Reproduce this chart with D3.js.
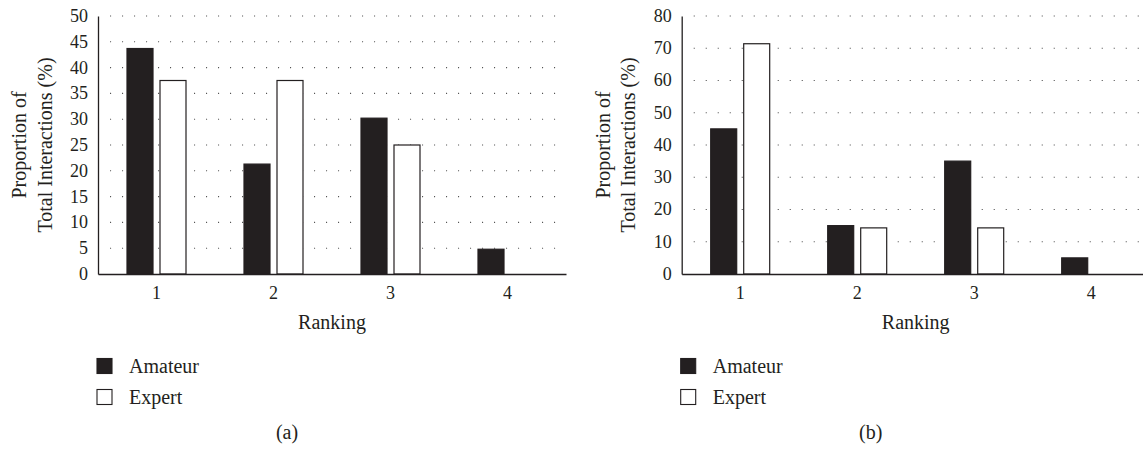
<!DOCTYPE html>
<html>
<head>
<meta charset="utf-8">
<script src="https://cdn.jsdelivr.net/npm/d3@7"></script>
<style>
  html, body { margin: 0; padding: 0; background: #fff; }
  svg { display: block; }
  text { font-family: "Liberation Serif", "Times New Roman", "DejaVu Serif", serif; fill: #231f20; }
</style>
</head>
<body>
<svg id="chart" width="1143" height="449"></svg>
<script>
// Ranking categories and the two groups compared
const rankings = ["1", "2", "3", "4"];
const groups = ["Amateur", "Expert"];

// Panel (a): proportion of total interactions (%)
const amateurA = [43.7, 21.3, 30.2, 4.8];
const expertA  = [37.5, 37.5, 25.0, 0];
const ticksA   = [0, 5, 10, 15, 20, 25, 30, 35, 40, 45, 50];

// Panel (b): proportion of total interactions (%)
const amateurB = [45.0, 15.0, 35.0, 5.0];
const expertB  = [71.4, 14.3, 14.3, 0];
const ticksB   = [0, 10, 20, 30, 40, 50, 60, 70, 80];

const ink = "#231f20";
const serif = '"Liberation Serif", "Times New Roman", "DejaVu Serif", serif';
const svg = d3.select("#chart");

function drawPanel(dx, amateur, expert, ticks, caption) {
  const g = svg.append("g").attr("transform", `translate(${dx},0)`);
  const left = 98, right = 566, top = 16, bottom = 274;

  const x = d3.scaleBand().domain(rankings).range([left, right]).padding(0);
  const inner = d3.scaleBand().domain(groups)
    .range([-29.5, 29.5]).paddingInner(7 / 33).paddingOuter(0);
  const y = d3.scaleLinear().domain([0, d3.max(ticks)]).range([bottom, top]);

  // dotted horizontal grid
  g.append("g").selectAll("line")
    .data(ticks.filter(t => t > 0))
    .join("line")
    .attr("x1", left + 12).attr("x2", right)
    .attr("y1", d => y(d)).attr("y2", d => y(d))
    .attr("stroke", "#555").attr("stroke-width", 1.1)
    .attr("stroke-dasharray", "1.1,10.9");

  // bars
  const rows = [];
  rankings.forEach((r, i) => {
    rows.push({ r, grp: "Amateur", v: amateur[i] });
    rows.push({ r, grp: "Expert", v: expert[i] });
  });
  g.append("g").selectAll("rect")
    .data(rows.filter(d => d.v > 0))
    .join("rect")
    .attr("x", d => x(d.r) + x.bandwidth() / 2 + inner(d.grp))
    .attr("width", inner.bandwidth())
    .attr("y", d => y(d.v))
    .attr("height", d => y(0) - y(d.v))
    .attr("fill", d => d.grp === "Amateur" ? ink : "#fff")
    .attr("stroke", ink).attr("stroke-width", 1.2);

  // y axis
  const yAxis = d3.axisLeft(y).tickValues(ticks).tickSize(0).tickPadding(10)
    .tickFormat(d3.format("d"));
  const ya = g.append("g").attr("transform", `translate(${left},0)`).call(yAxis)
    .attr("font-family", serif);
  ya.select(".domain").attr("stroke", ink).attr("stroke-width", 1.3);
  ya.selectAll("text").style("font-family", serif)
    .style("font-size", "18px").attr("fill", ink).attr("dy", "0.3em");

  // x axis
  const xAxis = d3.axisBottom(x).tickSize(0).tickPadding(12);
  const xa = g.append("g").attr("transform", `translate(0,${bottom})`).call(xAxis)
    .attr("font-family", serif);
  xa.select(".domain").attr("stroke", ink).attr("stroke-width", 1.3);
  xa.selectAll("text").style("font-family", serif)
    .style("font-size", "18px").attr("fill", ink);

  // axis titles
  g.append("text").attr("x", (left + right) / 2).attr("y", 328.5)
    .attr("text-anchor", "middle").style("font-size", "20px").text("Ranking");
  const yt = g.append("text").attr("transform", "translate(26,145) rotate(-90)")
    .attr("text-anchor", "middle").style("font-size", "20px");
  yt.append("tspan").attr("x", 0).attr("y", 0).text("Proportion of");
  yt.append("tspan").attr("x", 0).attr("y", 25.5).text("Total Interactions (%)");

  // legend
  const lg = g.append("g").selectAll("g").data(groups).join("g")
    .attr("transform", (d, i) => `translate(97,${358.5 + i * 31})`);
  lg.append("rect").attr("width", 15).attr("height", 15)
    .attr("fill", d => d === "Amateur" ? ink : "#fff")
    .attr("stroke", ink).attr("stroke-width", 1.1);
  lg.append("text").attr("x", 32).attr("y", 14.5)
    .style("font-size", "20px").text(d => d);

  // panel caption
  g.append("text").attr("x", 287).attr("y", 439)
    .attr("text-anchor", "middle").style("font-size", "20px").text(caption);
}

drawPanel(0, amateurA, expertA, ticksA, "(a)");
drawPanel(583.7, amateurB, expertB, ticksB, "(b)");
</script>
</body>
</html>
